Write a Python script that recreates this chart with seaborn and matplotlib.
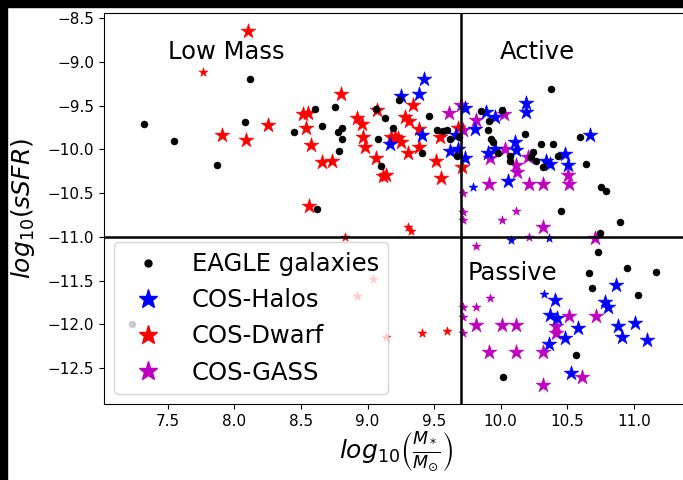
import matplotlib
matplotlib.use("Agg")
import matplotlib.pyplot as plt
import numpy as np
import pandas as pd
import seaborn as sns
from matplotlib.patches import Rectangle
from matplotlib.lines import Line2D

# EAGLE simulated galaxies: log stellar mass, log specific SFR
eagle_mass = [7.32, 7.545, 7.87, 8.08, 8.12, 8.449, 8.605, 8.62, 8.655, 8.755,
              8.775, 8.812, 8.81, 8.784, 9.063, 9.08, 9.135, 9.19, 9.105, 9.236,
              9.463, 9.413, 9.523, 9.568, 9.594, 9.617, 9.69, 9.675, 9.855, 10.013,
              9.913, 9.906, 9.93, 9.944, 9.98, 10.074, 10.07, 10.18, 10.382, 10.306,
              10.395, 10.245, 10.232, 10.265, 10.315, 10.43, 10.595, 10.645, 10.757, 10.79,
              10.452, 10.896, 10.746, 10.733, 10.665, 10.946, 11.166, 10.69, 11.033, 10.57,
              10.019, 7.23]
eagle_ssfr = [-9.71, -9.90, -10.18, -9.69, -9.20, -9.80, -9.54, -10.68, -9.73, -9.51,
              -9.80, -9.75, -9.88, -10.02, -9.54, -9.88, -9.64, -9.76, -10.19, -9.436,
              -9.62, -10.045, -9.78, -9.786, -9.78, -9.885, -9.86, -10.075, -9.556, -9.55,
              -9.68, -9.78, -9.885, -9.92, -10.04, -10.075, -10.13, -9.825, -9.314, -9.94,
              -9.94, -10.026, -10.09, -10.13, -10.205, -10.075, -9.855, -10.167, -10.43, -10.47,
              -10.70, -10.825, -10.96, -11.17, -11.414, -11.357, -11.396, -11.586, -11.66, -12.347,
              -12.60, -12.0]

# COS-Halos
halos_mass = [9.426, 9.255, 9.388, 9.168, 9.406, 9.73, 9.664, 9.617, 9.68, 9.73,
              9.893, 9.957, 9.806, 9.906, 9.957, 10.107, 10.115, 10.057, 10.19, 10.19,
              10.344, 10.37, 10.483, 10.508, 10.67, 10.87, 10.408, 10.783, 10.808, 10.37,
              10.42, 10.883, 11.008, 10.582, 10.483, 10.915, 11.10, 10.364, 10.528]
halos_ssfr = [-9.20, -9.39, -9.37, -9.94, -9.836, -9.53, -9.836, -10.02, -9.99, -10.10,
              -9.57, -9.63, -9.77, -10.045, -9.99, -9.91, -10.007, -10.357, -9.47, -9.57,
              -10.13, -10.167, -10.05, -10.18, -9.836, -11.548, -11.72, -11.74, -11.80, -11.89,
              -11.93, -12.016, -11.98, -12.04, -12.156, -12.145, -12.18, -12.22, -12.55]
halos_lim_mass = [9.79, 10.077, 10.364, 10.325]
halos_lim_ssfr = [-10.43, -11.04, -11.01, -11.65]

# COS-Dwarfs
dwarf_mass = [8.10, 8.80, 8.517, 8.554, 8.254, 8.537, 7.908, 8.086, 8.918, 8.96,
              8.967, 9.07, 8.572, 8.98, 8.655, 8.734, 9.063, 9.138, 9.21, 8.562,
              9.343, 9.28, 9.313, 9.18, 9.23, 9.255, 9.39, 9.388, 9.305, 9.543,
              9.68, 9.513, 9.71, 9.555, 9.117]
dwarf_ssfr = [-8.65, -9.37, -9.59, -9.58, -9.725, -9.76, -9.83, -9.89, -9.645, -9.71,
              -9.86, -9.55, -9.95, -9.976, -10.14, -10.13, -10.10, -10.29, -9.855, -10.65,
              -9.49, -9.63, -9.68, -9.855, -9.87, -9.91, -9.77, -9.976, -10.045, -9.86,
              -9.75, -10.13, -10.20, -10.33, -10.30]
dwarf_lim_mass = [7.765, 8.83, 9.04, 8.92, 9.14, 9.406, 9.594, 9.305, 9.33]
dwarf_lim_ssfr = [-9.113, -11.0, -11.48, -11.67, -12.14, -12.10, -12.08, -10.89, -10.93]

# COS-GASS
gass_mass = [9.613, 9.705, 9.72, 9.814, 10.024, 9.919, 10.03, 10.115, 10.12, 9.913,
             10.215, 10.315, 10.508, 10.515, 10.207, 10.315, 10.708, 10.515, 10.716, 9.814,
             10.013, 10.115, 10.415, 10.415, 9.913, 10.115, 10.315, 10.615, 10.315]
gass_ssfr = [-9.58, -9.49, -9.78, -9.664, -9.596, -10.10, -9.99, -10.18, -10.254, -10.395,
             -10.395, -10.395, -10.29, -10.395, -10.09, -10.89, -11.01, -11.90, -11.90, -12.005,
             -12.005, -12.005, -12.02, -12.10, -12.31, -12.31, -12.31, -12.60, -12.69]
gass_lim_mass = [9.718, 9.718, 9.718, 10.115, 10.013, 10.215, 9.814, 9.919, 9.814, 9.718,
                 9.718, 9.718]
gass_lim_ssfr = [-10.50, -10.71, -10.806, -10.70, -10.806, -11.0, -11.10, -11.70, -11.80, -11.80,
                 -11.91, -12.10]

mass_cut = 9.7
ssfr_cut = -11.0

fig = plt.figure(figsize=(6.83, 4.8), dpi=100)
ax = fig.add_axes([104 / 683, 76 / 480, 585.6 / 683, 391 / 480])

big, small = 125, 45


def stars(mass, ssfr, color, size, z=2):
    df = pd.DataFrame({"mass": mass, "ssfr": ssfr})
    sns.scatterplot(data=df, x="mass", y="ssfr", ax=ax, marker="*", s=size,
                    color=color, edgecolor=color, linewidth=0.4, zorder=z,
                    legend=False)


stars(gass_mass, gass_ssfr, "#c000c0", big, z=2)
stars(gass_lim_mass, gass_lim_ssfr, "#c000c0", small, z=2)
stars(dwarf_mass, dwarf_ssfr, "#ff0000", big, z=3)
stars(dwarf_lim_mass, dwarf_lim_ssfr, "#ff0000", small, z=3)
stars(halos_mass, halos_ssfr, "#0000ff", big, z=4)
stars(halos_lim_mass, halos_lim_ssfr, "#0000ff", small, z=4)

eagle = pd.DataFrame({"mass": eagle_mass, "ssfr": eagle_ssfr})
sns.scatterplot(data=eagle, x="mass", y="ssfr", ax=ax, color="k", s=26,
                edgecolor="k", linewidth=0.3, zorder=5, legend=False)

ax.axvline(mass_cut, color="k", lw=1.8, zorder=6)
ax.axhline(ssfr_cut, color="k", lw=1.8, zorder=6)

ax.set_xlim(7.02, 11.42)
ax.set_ylim(-12.91, -8.44)
ax.set_xticks(np.arange(7.5, 11.01, 0.5))
ax.set_yticks(np.arange(-12.5, -8.49, 0.5))
ax.tick_params(labelsize=11)

ax.text(7.5, -8.885, "Low Mass", fontsize=17.5, va="center", ha="left")
ax.text(9.994, -8.885, "Active", fontsize=17.5, va="center", ha="left")
ax.text(9.754, -11.41, "Passive", fontsize=17.5, va="center", ha="left")

ax.set_xlabel(r"$log_{10}\left(\frac{M_*}{M_{\odot}}\right)$", fontsize=18, labelpad=1)
ax.set_ylabel(r"$log_{10}(sSFR)$", fontsize=18, labelpad=8)

handles = [
    Line2D([], [], ls="none", marker="o", color="k", markersize=5),
    Line2D([], [], ls="none", marker="*", color="#0000ff", markersize=14),
    Line2D([], [], ls="none", marker="*", color="#ff0000", markersize=14),
    Line2D([], [], ls="none", marker="*", color="#c000c0", markersize=14),
]
labels = ["EAGLE galaxies", "COS-Halos", "COS-Dwarf", "COS-GASS"]
leg = ax.legend(handles, labels, loc="lower left", fontsize=17.5, framealpha=0.8,
                borderaxespad=0.4)
leg.set_zorder(10)

# dark frame strips along the top and left edges
fig.add_artist(Rectangle((0, 1 - 7 / 480), 1, 7 / 480, transform=fig.transFigure,
                         color="k", zorder=20))
fig.add_artist(Rectangle((0, 0), 7 / 683, 1, transform=fig.transFigure,
                         color="k", zorder=20))

fig.savefig("out.png", dpi=100)
